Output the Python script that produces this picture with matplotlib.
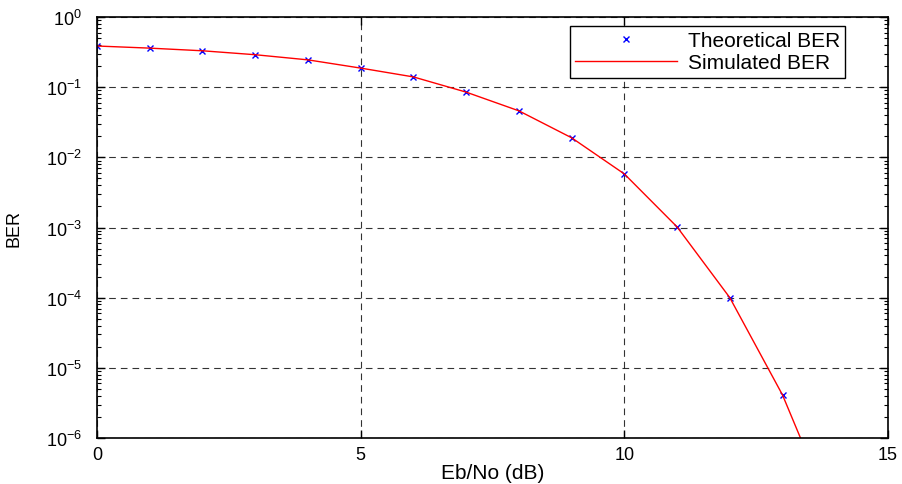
import matplotlib
matplotlib.use("Agg")
import matplotlib.pyplot as plt
from matplotlib.ticker import LogLocator, NullFormatter

plt.rcParams['font.family'] = ['Liberation Sans', 'DejaVu Sans']
plt.rcParams['mathtext.fontset'] = 'custom'
plt.rcParams['mathtext.rm'] = 'Liberation Sans'
plt.rcParams['mathtext.it'] = 'Liberation Sans'

ebno_theory = [0, 1, 2, 3, 4, 5, 6, 7, 8, 9, 10, 11, 12, 13]
ber_theory = [0.386, 0.36, 0.33, 0.29, 0.245, 0.187, 0.14, 0.085, 0.046,
              0.019, 0.0058, 0.00102, 1.0e-4, 4.1e-6]
ebno_sim = [0, 1, 2, 3, 4, 5, 6, 7, 8, 9, 10, 11, 12, 13, 14]
ber_sim = [0.386, 0.36, 0.33, 0.29, 0.245, 0.187, 0.14, 0.085, 0.046,
           0.019, 0.0058, 0.00102, 1.0e-4, 4.1e-6, 6.5e-8]
xticks = [0, 5, 10, 15]
yticks = [1e-6, 1e-5, 1e-4, 1e-3, 1e-2, 1e-1, 1e0]
ylabels = ['10$^{-6}$', '10$^{-5}$', '10$^{-4}$', '10$^{-3}$', '10$^{-2}$', '10$^{-1}$', '10$^{0}$']

W, H = 902, 485
fig = plt.figure(figsize=(W / 100, H / 100), dpi=100)
ax = fig.add_axes([97 / W, 1 - 439 / H, (888 - 97) / W, (439 - 18) / H])

ax.semilogy(ebno_theory, ber_theory, linestyle='none', marker='x', color='blue',
            markersize=5, markeredgewidth=1.0, label='Theoretical BER')
ax.semilogy(ebno_sim, ber_sim, color='red', linewidth=1.0, label='Simulated BER')

ax.set_xlim(0, 15)
ax.set_ylim(1e-6, 1)
ax.set_xticks(xticks)
ax.set_xticklabels([str(t) for t in xticks])
ax.set_yticks(yticks)
ax.set_yticklabels(ylabels)
ax.yaxis.set_minor_locator(LogLocator(base=10, subs=range(2, 10), numticks=20))
ax.yaxis.set_minor_formatter(NullFormatter())

ax.grid(True, which='major', linestyle=(0, (6, 4.5)), color='black', linewidth=0.8, alpha=0.8)
ax.tick_params(which='both', direction='in', top=True, right=True, labelsize=13)
ax.tick_params(axis='y', pad=11)
ax.tick_params(axis='x', pad=6)
ax.tick_params(which='major', length=6, width=1)
ax.tick_params(which='minor', length=3, width=0.8)
for s in ax.spines.values():
    s.set_linewidth(1.2)

ax.set_xlabel('Eb/No (dB)', fontsize=15)
ax.set_ylabel('BER', fontsize=13)
ax.xaxis.set_label_coords(0.5, (439 - 464) / 421)
ax.yaxis.set_label_coords((23 - 97) / 791, 0.5)

leg = ax.legend(loc='upper right', bbox_to_anchor=(845 / W, 1 - 27 / H),
                bbox_transform=fig.transFigure, fontsize=15, fancybox=False,
                edgecolor='black', framealpha=1, handlelength=4.9,
                handletextpad=0.5, labelspacing=0.15, borderpad=0.25,
                borderaxespad=0)
leg.get_frame().set_linewidth(1.0)

fig.savefig('out.png', dpi=100)
